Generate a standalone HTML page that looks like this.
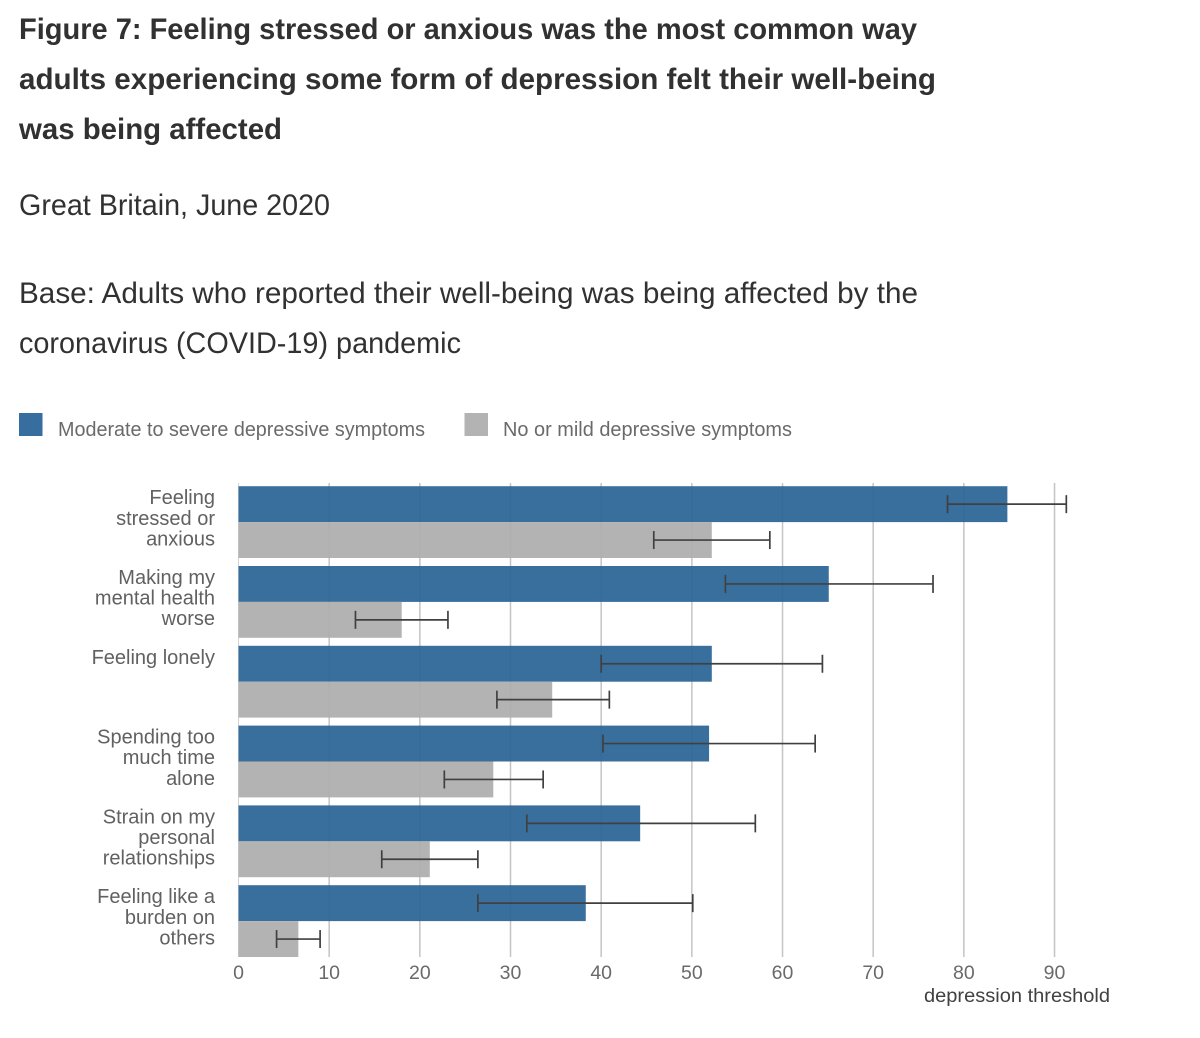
<!DOCTYPE html>
<html lang="en">
<head>
<meta charset="utf-8">
<title>Figure 7</title>
<style>
html,body{margin:0;padding:0;background:#fff;width:1200px;height:1038px;overflow:hidden}
svg{display:block;font-family:"Liberation Sans","DejaVu Sans",sans-serif}
.title{font-size:30px;font-weight:700;fill:#323132}
.sub{font-size:30px;fill:#323132}
.leg{font-size:20px;fill:#6a6a6a}
.cat{font-size:20px;fill:#616161;text-anchor:end}
.tick{font-size:19.5px;fill:#6a6a6a;text-anchor:middle}
.axt{font-size:19.5px;fill:#414042}
</style>
</head>
<body>
<svg id="chart" width="1200" height="1038" viewBox="0 0 1200 1038">
  <rect width="1200" height="1038" fill="#fff"/>
  <text class="title" x="19" y="39" textLength="898" lengthAdjust="spacingAndGlyphs">Figure 7: Feeling stressed or anxious was the most common way</text>
  <text class="title" x="19" y="89" textLength="917" lengthAdjust="spacingAndGlyphs">adults experiencing some form of depression felt their well-being</text>
  <text class="title" x="19" y="139" textLength="263" lengthAdjust="spacingAndGlyphs">was being affected</text>
  <text class="sub" x="19" y="215" textLength="311" lengthAdjust="spacingAndGlyphs">Great Britain, June 2020</text>
  <text class="sub" x="19" y="303" textLength="899" lengthAdjust="spacingAndGlyphs">Base: Adults who reported their well-being was being affected by the</text>
  <text class="sub" x="19" y="353" textLength="442" lengthAdjust="spacingAndGlyphs">coronavirus (COVID-19) pandemic</text>

  <g>
    <rect x="19" y="413" width="23.5" height="23" fill="#376d9f"/>
    <text class="leg" x="58" y="436" textLength="367" lengthAdjust="spacingAndGlyphs">Moderate to severe depressive symptoms</text>
    <rect x="464.5" y="413" width="23.5" height="23" fill="#b3b3b3"/>
    <text class="leg" x="503" y="436" textLength="289" lengthAdjust="spacingAndGlyphs">No or mild depressive symptoms</text>
  </g>

  <g id="grid"></g>
  <g id="bars"></g>
  <g id="errors"></g>
  <g id="cats"></g>
  <g id="ticks"></g>
  <text class="axt" x="924" y="1002" textLength="186" lengthAdjust="spacingAndGlyphs">depression threshold</text>
</svg>
<script>
const categories = [
  ["Feeling", "stressed or", "anxious"],
  ["Making my", "mental health", "worse"],
  ["Feeling lonely"],
  ["Spending too", "much time", "alone"],
  ["Strain on my", "personal", "relationships"],
  ["Feeling like a", "burden on", "others"]
];
const moderateValues = [84.8, 65.1, 52.2, 51.9, 44.3, 38.3];
const moderateLow = [78.2, 53.7, 40.0, 40.2, 31.8, 26.4];
const moderateHigh = [91.3, 76.6, 64.4, 63.6, 57.0, 50.1];
const mildValues = [52.2, 18.0, 34.6, 28.1, 21.1, 6.6];
const mildLow = [45.8, 12.9, 28.5, 22.7, 15.8, 4.2];
const mildHigh = [58.6, 23.1, 40.9, 33.6, 26.4, 9.0];
const xTicks = [0, 10, 20, 30, 40, 50, 60, 70, 80, 90];

const NS = "http://www.w3.org/2000/svg";
const plotLeft = 238.5, unit = 9.067, plotTop = 486.2, rowStep = 79.8, barH = 35.9;
const xScale = v => plotLeft + v * unit;
const rowTop = i => plotTop + i * rowStep;

function shape(parent, tag, attrs, text) {
  const el = document.createElementNS(NS, tag);
  for (const k in attrs) el.setAttribute(k, attrs[k]);
  if (text !== undefined) el.textContent = text;
  parent.appendChild(el);
  return el;
}

const gridG = document.getElementById("grid");
const barsG = document.getElementById("bars");
const errG = document.getElementById("errors");
const catsG = document.getElementById("cats");
const ticksG = document.getElementById("ticks");

xTicks.forEach(t => {
  if (t !== 0) {
    const line = shape(gridG, "line", {x1: xScale(t), x2: xScale(t), y1: 483, y2: 957, stroke: "#c4c4c4", "stroke-width": 1.5});
    
    
  } else {
    const line = shape(gridG, "line", {x1: xScale(t), x2: xScale(t), y1: 483, y2: 957, stroke: "#d4d4d4", "stroke-width": 1});
    
    
  }
  const label = shape(ticksG, "text", {class: "tick", x: xScale(t), y: 979}, String(t));
  
  
});

function errorBar(low, high, cy, name) {
  const g = shape(errG, "g", {stroke: "#404040", "stroke-width": 1.7, fill: "none"});
  
  
  shape(g, "line", {x1: xScale(low), x2: xScale(high), y1: cy, y2: cy});
  shape(g, "line", {x1: xScale(low), x2: xScale(low), y1: cy - 9, y2: cy + 9});
  shape(g, "line", {x1: xScale(high), x2: xScale(high), y1: cy - 9, y2: cy + 9});
}

categories.forEach((lines, i) => {
  const top = rowTop(i);
  const blue = shape(barsG, "rect", {x: plotLeft, y: top, width: xScale(moderateValues[i]) - plotLeft, height: barH, fill: "#2a6496", "fill-opacity": 0.93});
  
  
  const gray = shape(barsG, "rect", {x: plotLeft, y: top + barH, width: xScale(mildValues[i]) - plotLeft, height: barH, fill: "#adadad", "fill-opacity": 0.93});
  
  
  errorBar(moderateLow[i], moderateHigh[i], top + barH / 2, 'error-bar-moderate-to-severe-' + i);
  errorBar(mildLow[i], mildHigh[i], top + barH * 1.5, 'error-bar-no-or-mild-' + i);
  lines.forEach((txt, j) => {
    const label = shape(catsG, "text", {class: "cat", x: 215, y: top + 18 + j * 20.6}, txt);
    
    
  });
});
</script>
</body>
</html>
